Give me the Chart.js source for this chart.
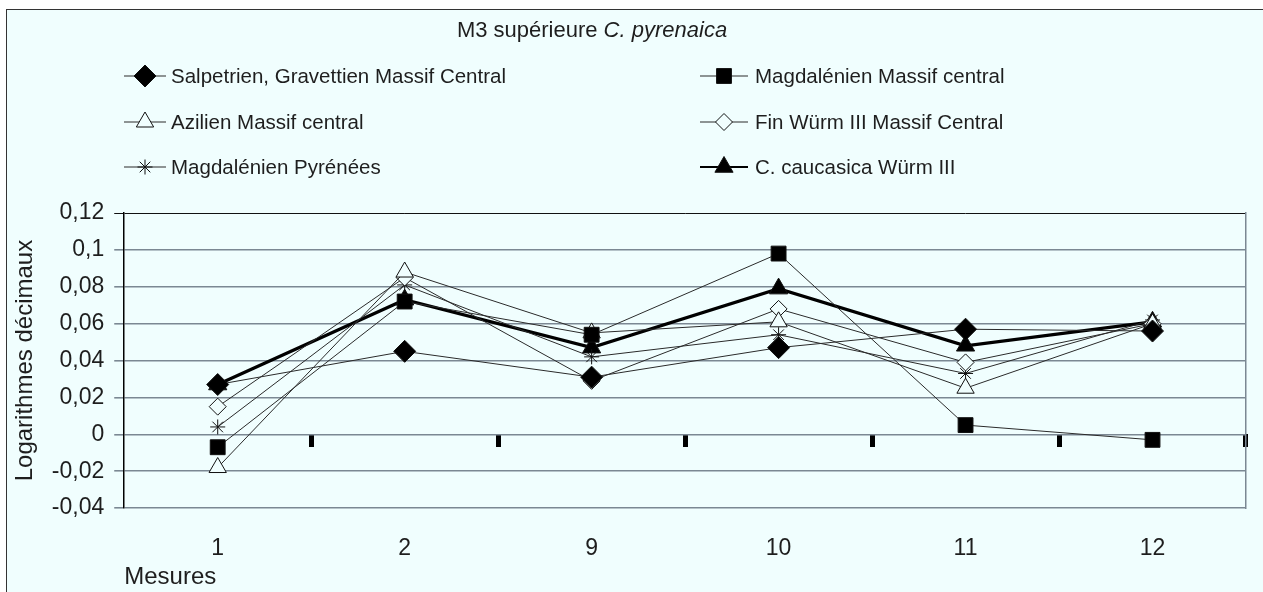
<!DOCTYPE html>
<html>
<head>
<meta charset="utf-8">
<script src="https://cdn.jsdelivr.net/npm/chart.js@4"></script>
<style>
  html, body { margin: 0; padding: 0; background: #fff; overflow: hidden; }
  #frame { position: absolute; left: 6px; top: 9px; width: 1280px; height: 600px; border: 1.5px solid #333; background: #f0fefe; }
  #wrap { position: absolute; left: 0; top: 0; width: 1263px; height: 592px; }
</style>
</head>
<body>
<div id="frame"></div>
<div id="wrap"><canvas id="chart"></canvas></div>
<script>
const categories = ['1', '2', '9', '10', '11', '12'];

const salpetrien     = [0.027, 0.045, 0.031, 0.047, 0.057, 0.056];
const magdalenienMC  = [-0.007, 0.072, 0.054, 0.098, 0.005, -0.003];
const azilien        = [-0.018, 0.088, 0.055, 0.061, 0.025, 0.060];
const finWurm        = [0.015, 0.085, 0.029, 0.068, 0.039, 0.060];
const magdalenienPyr = [0.004, 0.081, 0.042, 0.054, 0.033, 0.062];
const caucasica      = [0.027, 0.073, 0.047, 0.079, 0.048, 0.061];

const yMin = -0.04, yMax = 0.12, yStep = 0.02;

const BG = '#f0fefe';
const INK = '#1e1e1e';
const GRID = '#7b8893';
const FONT = '"Liberation Sans", Arial, sans-serif';

Chart.defaults.font.family = FONT;
Chart.defaults.color = INK;

function series(label, data, style, radius, filled, width) {
  return {
    label: label,
    data: data,
    borderColor: width > 2 ? '#000' : '#2a2a2a',
    borderWidth: width,
    pointStyle: style,
    pointRadius: radius,
    pointHoverRadius: radius,
    pointBackgroundColor: filled ? '#000' : BG,
    pointBorderColor: '#111',
    pointBorderWidth: 1,
    tension: 0,
    fill: false
  };
}

// title + two-column legend drawn on the canvas
const headerPlugin = {
  id: 'header',
  afterDraw(chart) {
    const ctx = chart.ctx;
    ctx.save();
    ctx.fillStyle = INK;
    ctx.textBaseline = 'middle';
    ctx.textAlign = 'left';

    const t1 = 'M3 supérieure ', t2 = 'C. pyrenaica';
    ctx.font = '22px ' + FONT;
    const w1 = ctx.measureText(t1).width;
    ctx.font = 'italic 22px ' + FONT;
    const w2 = ctx.measureText(t2).width;
    const tx = 592 - (w1 + w2) / 2;
    ctx.font = '22px ' + FONT;
    ctx.fillText(t1, tx, 31);
    ctx.font = 'italic 22px ' + FONT;
    ctx.fillText(t2, tx + w1, 31);

    const rowsY = [76, 122, 167];
    const cols = [{ x: 124, len: 42, gap: 5 }, { x: 700, len: 48, gap: 7 }];
    ctx.font = '20.5px ' + FONT;
    chart.data.datasets.forEach((ds, i) => {
      const c = cols[i % 2];
      const y = rowsY[Math.floor(i / 2)];
      ctx.strokeStyle = ds.borderColor;
      ctx.lineWidth = Math.min(ds.borderWidth, 2);
      ctx.beginPath();
      ctx.moveTo(c.x, y);
      ctx.lineTo(c.x + c.len, y);
      ctx.stroke();
      ctx.fillStyle = ds.pointBackgroundColor;
      ctx.strokeStyle = ds.pointBorderColor;
      ctx.lineWidth = 1;
      Chart.helpers.drawPoint(ctx, {
        pointStyle: ds.pointStyle,
        radius: ds.pointRadius,
        rotation: 0,
        borderWidth: 1
      }, c.x + c.len / 2, y);
      ctx.fillStyle = INK;
      ctx.fillText(ds.label, c.x + c.len + c.gap, y + 1);
    });
    ctx.restore();
  }
};

new Chart(document.getElementById('chart'), {
  type: 'line',
  data: {
    labels: categories,
    datasets: [
      series('Salpetrien, Gravettien Massif Central', salpetrien, 'rectRot', 11, true, 1),
      series('Magdalénien Massif central', magdalenienMC, 'rect', 10.5, true, 1),
      series('Azilien Massif central', azilien, 'triangle', 10, false, 1),
      series('Fin Würm III Massif Central', finWurm, 'rectRot', 8.5, false, 1),
      series('Magdalénien Pyrénées', magdalenienPyr, 'star', 7.5, false, 1),
      series('C. caucasica Würm III', caucasica, 'triangle', 10.5, true, 3.2)
    ]
  },
  options: {
    responsive: true,
    maintainAspectRatio: false,
    animation: false,
    devicePixelRatio: 1,
    layout: { padding: { top: 213, left: 5, right: 9, bottom: 0 } },
    plugins: {
      legend: { display: false },
      tooltip: { enabled: false }
    },
    scales: {
      x: {
        type: 'category',
        offset: true,
        grid: { display: false, drawTicks: false },
        border: { display: false },
        ticks: { font: { size: 23 }, padding: 27 },
        title: {
          display: true, text: 'Mesures', align: 'start',
          font: { size: 24 }, padding: { top: -27, bottom: 0.5 }
        }
      },
      // tick marks hanging from the zero line
      xMarks: {
        type: 'category',
        axis: 'x',
        position: { y: 0 },
        offset: true,
        grid: {
          display: true,
          offset: true,
          drawOnChartArea: false,
          tickLength: 13,
          tickWidth: 5,
          tickColor: ctx => ctx.index === 0 ? 'rgba(0,0,0,0)' : '#000'
        },
        border: { display: false },
        ticks: { display: false }
      },
      y: {
        min: yMin,
        max: yMax,
        ticks: {
          stepSize: yStep,
          padding: 10,
          font: { size: 23 },
          callback: v => String(Math.round(v * 100) / 100).replace('.', ',')
        },
        grid: {
          color: ctx => (ctx.tick && Math.abs(ctx.tick.value - yMax) < 1e-9) ? '#111' : GRID,
          lineWidth: ctx => (ctx.tick && Math.abs(ctx.tick.value - yMax) < 1e-9) ? 1 : 1.6,
          tickLength: 10
        },
        border: { display: true, color: '#000', width: 1.5 },
        title: {
          display: true, text: 'Logarithmes décimaux',
          font: { size: 24 }, padding: { top: 6, bottom: 2 }
        }
      },
      yRight: {
        position: 'right',
        ticks: { display: false },
        grid: { display: false },
        border: { display: true, color: GRID, width: 1.5 }
      }
    }
  },
  plugins: [headerPlugin]
});
</script>
</body>
</html>
